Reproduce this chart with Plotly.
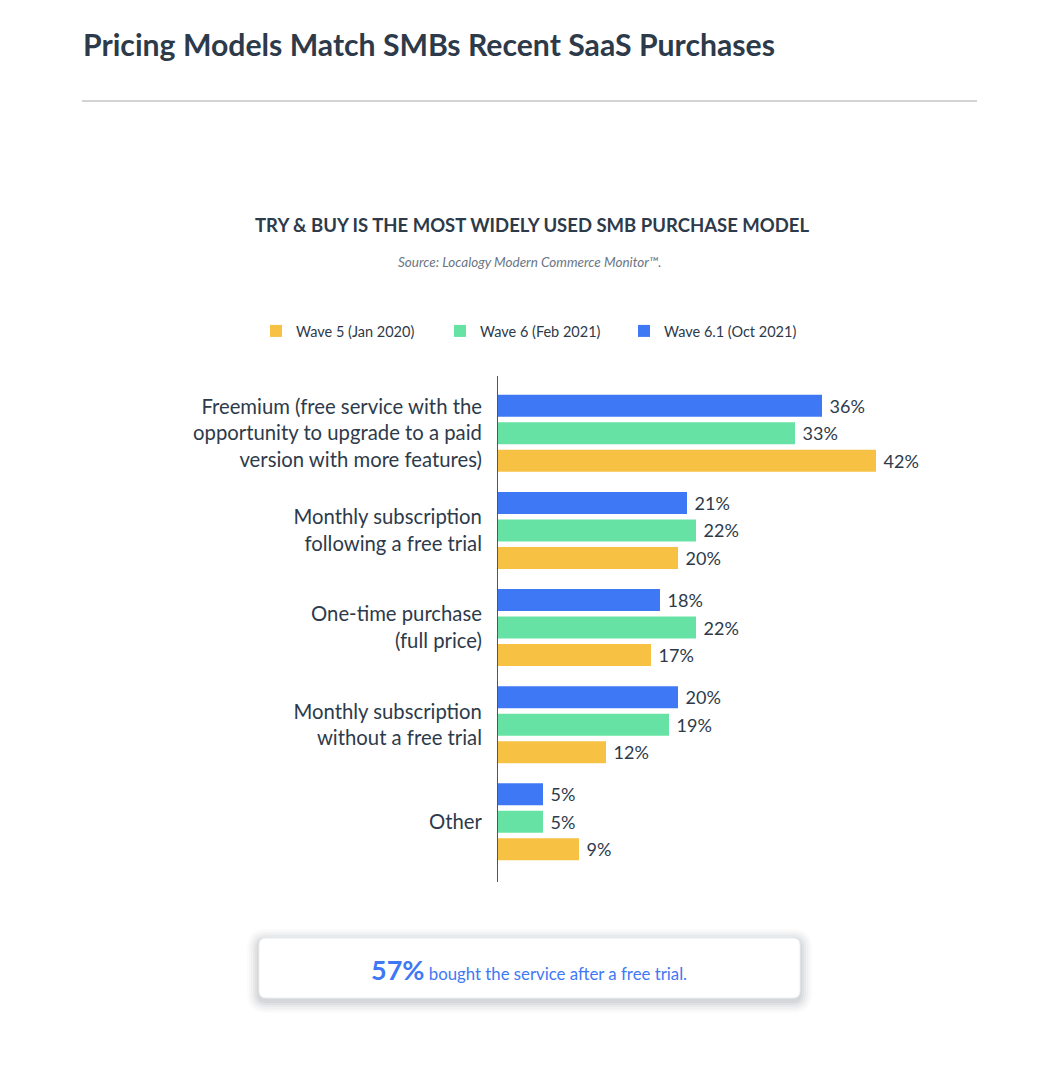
import plotly.graph_objects as go

# page body adds an 8px margin, so the figure is drawn 16px smaller
OFF = 8
FW, FH = 1062 - 2 * OFF, 1070 - 2 * OFF

categories = [
    "Other",
    "Monthly subscription<br>without a free trial",
    "One-time purchase<br>(full price)",
    "Monthly subscription<br>following a free trial",
    "Freemium (free service with the<br>opportunity to upgrade to a paid<br>version with more features)",
]
wave5 = [9, 12, 17, 20, 42]
wave6 = [5, 19, 22, 22, 33]
wave61 = [5, 20, 18, 21, 36]
series_names = ["Wave 5 (Jan 2020)", "Wave 6 (Feb 2021)", "Wave 6.1 (Oct 2021)"]

DARK = "#2d3a4a"
FONT = "Lato"
colors = ["#f7c244", "#66e3a4", "#3f78f5"]


def px(x):
    return (x - OFF) / FW


def py(y):
    return 1 - (y - OFF) / FH


def round_rect(x0, y0, x1, y1, r):
    # rounded rectangle path in paper coords, from pixel box
    return (
        f"M {px(x0 + r)} {py(y0)} L {px(x1 - r)} {py(y0)} "
        f"Q {px(x1)} {py(y0)} {px(x1)} {py(y0 + r)} "
        f"L {px(x1)} {py(y1 - r)} Q {px(x1)} {py(y1)} {px(x1 - r)} {py(y1)} "
        f"L {px(x0 + r)} {py(y1)} Q {px(x0)} {py(y1)} {px(x0)} {py(y1 - r)} "
        f"L {px(x0)} {py(y0 + r)} Q {px(x0)} {py(y0)} {px(x0 + r)} {py(y0)} Z"
    )


fig = go.Figure()
for name, vals, col in zip(series_names, [wave5, wave6, wave61], colors):
    fig.add_trace(go.Bar(
        y=categories,
        x=vals,
        name=name,
        orientation="h",
        marker=dict(color=col, line=dict(width=0)),
        text=[f"\u2005{v}%" for v in vals],
        textposition="outside",
        textfont=dict(size=18, color=DARK, family=FONT),
        cliponaxis=False,
        hoverinfo="skip",
    ))

shapes = [
    dict(type="line", xref="paper", yref="paper", x0=px(82), x1=px(977),
         y0=py(101), y1=py(101), line=dict(color="#a8a8a8", width=1)),
]
# soft shadow under the callout box
for i, op in enumerate([0.02, 0.025, 0.03, 0.035, 0.045, 0.05]):
    g = 12 - i * 2
    shapes.append(dict(type="path", xref="paper", yref="paper",
                       path=round_rect(259 - g, 938 - g + 3, 800 + g, 998 + g + 3, 8 + g),
                       fillcolor=f"rgba(40,50,70,{op})", line=dict(width=0)))
shapes.append(dict(type="path", xref="paper", yref="paper",
                   path=round_rect(259, 938, 800, 998, 7),
                   fillcolor="white", line=dict(color="#eceef1", width=1)))

annotations = [
    dict(text="<b>Pricing Models Match SMBs Recent SaaS Purchases</b>",
         x=px(81), y=py(44), xanchor="left", yanchor="middle",
         font=dict(size=30.2, color=DARK, family=FONT)),
    dict(text="<b>TRY & BUY IS THE MOST WIDELY USED SMB PURCHASE MODEL</b>",
         x=px(532), y=py(225), xanchor="center", yanchor="middle",
         font=dict(size=18.5, color=DARK, family=FONT)),
    dict(text="<i>Source: Localogy Modern Commerce Monitor™.</i>",
         x=px(529), y=py(262), xanchor="center", yanchor="middle",
         font=dict(size=13.5, color="#6b7684", family=FONT)),
    dict(text="<b><span style='font-size:27px'>57%</span></b> bought the service after a free trial.",
         x=px(529), y=py(969), xanchor="center", yanchor="middle",
         font=dict(size=16.8, color="#3f78f5", family=FONT)),
]
for a in annotations:
    a.update(xref="paper", yref="paper", showarrow=False)

fig.update_layout(
    width=FW,
    height=FH,
    margin=dict(l=0, r=0, t=0, b=0),
    paper_bgcolor="white",
    plot_bgcolor="white",
    font=dict(family=FONT, color=DARK),
    barmode="group",
    bargap=0.15,
    bargroupgap=0.2,
    showlegend=True,
    legend=dict(
        orientation="h",
        x=px(256), y=py(331), xanchor="left", yanchor="middle",
        traceorder="normal",
        entrywidth=139,
        font=dict(size=14.5, color=DARK, family=FONT),
        itemclick=False,
    ),
    xaxis=dict(
        domain=[px(498), 1.0],
        range=[0, (1062 - OFF - 498) / 9],
        showgrid=False, zeroline=False, showticklabels=False, showline=False,
    ),
    yaxis=dict(
        domain=[py(882), py(376)],
        categoryorder="array",
        categoryarray=categories,
        range=[-0.62, 4.59],
        showgrid=False, zeroline=False,
        showline=True, linecolor="#4a5565", linewidth=1,
        ticks="", ticklabelstandoff=11,
        tickfont=dict(size=20.3, color=DARK, family=FONT),
    ),
    shapes=shapes,
    annotations=annotations,
)

fig.write_html("out.html")
